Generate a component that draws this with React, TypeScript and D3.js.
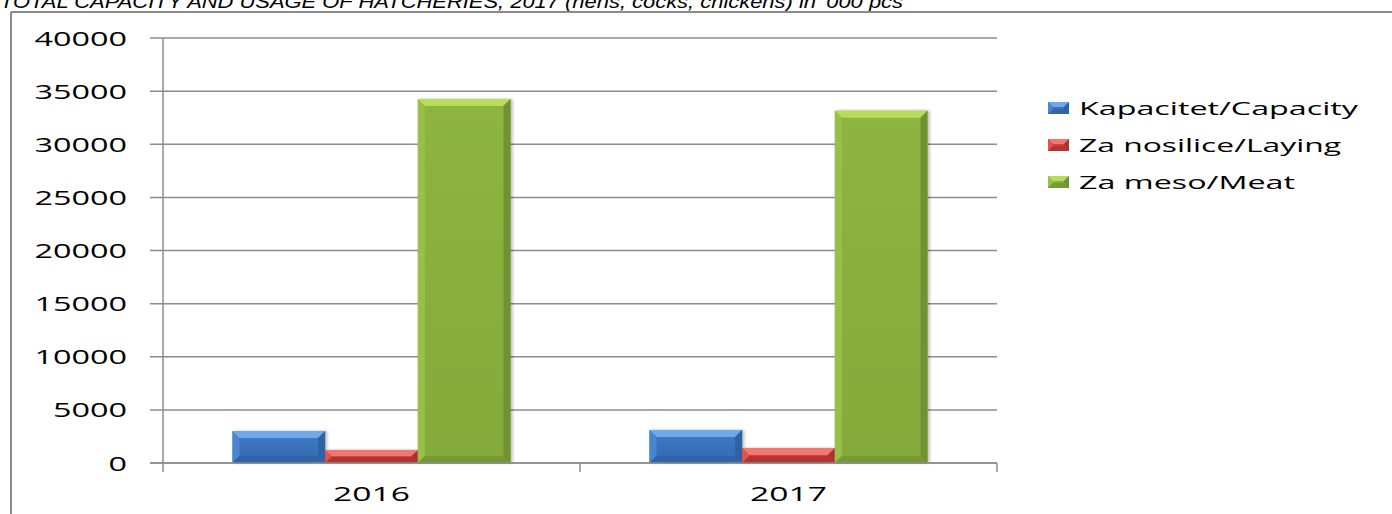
import React from "react";
import * as d3 from "d3";

const categories = ["2016", "2017"];
const seriesNames = ["Kapacitet/Capacity", "Za nosilice/Laying", "Za meso/Meat"];
const capacity = [3010, 3110];
const laying = [1220, 1410];
const meat = [34260, 33160];
const yTicks = [0, 5000, 10000, 15000, 20000, 25000, 30000, 35000, 40000];
const titleText = "TOTAL CAPACITY AND USAGE OF HATCHERIES, 2017 (hens, cocks, chickens) in '000 pcs";

const palettes = [
  { body: "#3f7bc6", bodyDark: "#3469b0", top: "#6fa8ea", left: "#4a86d0", right: "#2f62a3", bottom: "#3264a8" },
  { body: "#da4641", bodyDark: "#c93b37", top: "#f07772", left: "#e0534f", right: "#ab3330", bottom: "#b23532" },
  { body: "#8db540", bodyDark: "#84aa3a", top: "#b5dc5a", left: "#98c04a", right: "#6f9230", bottom: "#769a34" },
];

const W = 1392;
const H = 514;
const plotLeft = 163;
const plotRight = 997;
const plotTop = 38;
const plotBottom = 463;

function BevelBar({ x, y, w, h, p, b, id }: any) {
  const bb = Math.min(b, h / 2, w / 2);
  return (
    <g>
      <rect x={x} y={y} width={w} height={h} fill={`url(#${id})`} />
      <polygon points={`${x},${y} ${x + w},${y} ${x + w - bb},${y + bb} ${x + bb},${y + bb}`} fill={p.top} />
      <polygon points={`${x},${y} ${x + bb},${y + bb} ${x + bb},${y + h - bb} ${x},${y + h}`} fill={p.left} />
      <polygon points={`${x + w},${y} ${x + w - bb},${y + bb} ${x + w - bb},${y + h - bb} ${x + w},${y + h}`} fill={p.right} />
      <polygon points={`${x},${y + h} ${x + bb},${y + h - bb} ${x + w - bb},${y + h - bb} ${x + w},${y + h}`} fill={p.bottom} />
    </g>
  );
}

export default function App() {
  const values = [capacity, laying, meat];
  const x0 = d3.scaleBand().domain(categories).range([plotLeft, plotRight]).paddingInner(0).paddingOuter(0);
  const groupW = x0.bandwidth() * (3 / 4.5);
  const y = d3.scaleLinear().domain([0, 40000]).range([plotBottom, plotTop]);
  const x1 = d3.scaleBand().domain(seriesNames).range([0, groupW]).padding(0);
  const fontFam = "'Open Sans', 'DejaVu Sans', sans-serif";
  const digitW = 18.5;

  return (
    <svg
      width={W}
      height={H}
      style={{ position: "absolute", left: 0, top: 0, display: "block", background: "#fff" }}
    >
      <defs>
        {palettes.map((p, i) => (
          <linearGradient key={i} id={`g${i}`} x1="0" y1="0" x2="0" y2="1">
            <stop offset="0" stopColor={p.body} />
            <stop offset="1" stopColor={p.bodyDark} />
          </linearGradient>
        ))}
        <filter id="sh" x="-10%" y="-10%" width="130%" height="120%">
          <feDropShadow dx="2" dy="0" stdDeviation="1.5" floodColor="#000" floodOpacity="0.25" />
        </filter>
      </defs>
      <rect x={0} y={0} width={W} height={H} fill="#fff" />
      <text
        x={0}
        y={8}
        fontFamily="'Liberation Sans', Arial, sans-serif"
        fontStyle="italic"
        fontSize={19}
        fill="#000"
        textLength={903}
        lengthAdjust="spacingAndGlyphs"
      >
        {titleText}
      </text>
      <line x1={11} y1={12} x2={W} y2={12} stroke="#8a8a8a" strokeWidth={2} />
      <line x1={11} y1={12} x2={11} y2={H} stroke="#8a8a8a" strokeWidth={2} />

      {yTicks.map((t) => (
        <g key={t}>
          <line x1={150} x2={plotRight} y1={y(t)} y2={y(t)} stroke="#8c8c8c" strokeWidth={1.5} />
          <text
            x={127}
            y={y(t) + 7.5}
            textAnchor="end"
            fontFamily={fontFam}
            fontSize={20.5}
            fill="#000"
            textLength={String(t).length * digitW}
            lengthAdjust="spacingAndGlyphs"
          >
            {t}
          </text>
        </g>
      ))}
      <line x1={plotLeft} x2={plotLeft} y1={plotTop} y2={plotBottom + 1} stroke="#8c8c8c" strokeWidth={1.5} />
      {[plotLeft, ...categories.map((c) => (x0(c) as number) + x0.bandwidth())].map((xx, i) => (
        <line key={i} x1={xx} x2={xx} y1={plotBottom} y2={plotBottom + 9} stroke="#8c8c8c" strokeWidth={1.5} />
      ))}

      {categories.map((c, ci) => {
        const gx = (x0(c) as number) + (x0.bandwidth() - groupW) / 2;
        return (
          <g key={c} filter="url(#sh)">
            {seriesNames.map((s, si) => {
              const v = values[si][ci];
              const bx = gx + (x1(s) as number);
              const by = y(v);
              return (
                <BevelBar
                  key={s}
                  x={bx}
                  y={by}
                  w={x1.bandwidth()}
                  h={plotBottom - by}
                  p={palettes[si]}
                  b={7}
                  id={`g${si}`}
                />
              );
            })}
          </g>
        );
      })}
      <line x1={150} x2={plotRight} y1={plotBottom} y2={plotBottom} stroke="#8c8c8c" strokeWidth={1.5} />

      {categories.map((c) => (
        <text
          key={c}
          x={(x0(c) as number) + x0.bandwidth() / 2}
          y={501}
          textAnchor="middle"
          fontFamily={fontFam}
          fontSize={20.5}
          fill="#000"
          textLength={c.length * 19.2}
          lengthAdjust="spacingAndGlyphs"
        >
          {c}
        </text>
      ))}

      {seriesNames.map((s, i) => {
        const ly = 108 + i * 37;
        const widths = [279, 262, 216];
        return (
          <g key={s}>
            <BevelBar x={1048} y={ly - 6} w={21} h={12} p={palettes[i]} b={5} id={`g${i}`} />
            <text
              x={1079}
              y={ly + 7}
              fontFamily={fontFam}
              fontSize={19}
              fill="#000"
              textLength={widths[i]}
              lengthAdjust="spacingAndGlyphs"
            >
              {s}
            </text>
          </g>
        );
      })}
    </svg>
  );
}
